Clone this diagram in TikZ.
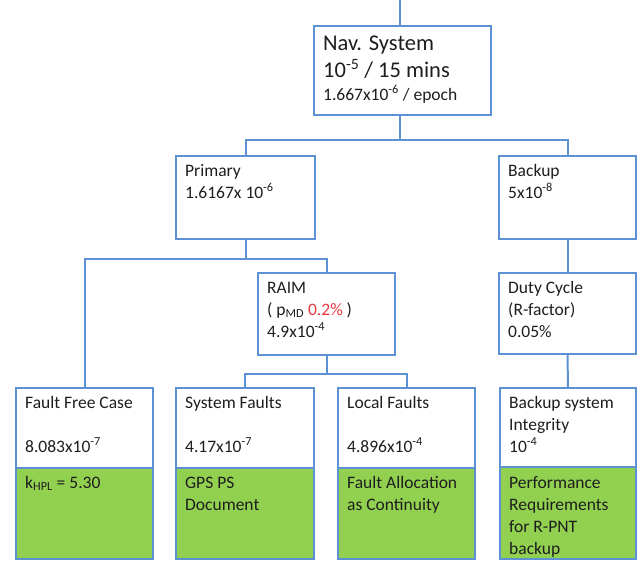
\documentclass[tikz,border=0pt]{standalone}
\usepackage{fontspec}
\setmainfont{Carlito}
\definecolor{lineblue}{RGB}{92,146,212}
\definecolor{boxgreen}{RGB}{146,208,80}
\definecolor{txt}{RGB}{30,30,30}
\definecolor{redtxt}{RGB}{232,56,64}
\newcommand\fst{\rule{0pt}{14pt}}
\begin{document}
\begin{tikzpicture}[x=1pt,y=-1pt,
  box/.style={draw=lineblue, line width=2pt, fill=white, inner sep=0pt, anchor=north west},
  gbox/.style={box, fill=boxgreen},
  lbl/.style={anchor=north west, align=left, inner sep=0pt, text=txt, font=\fontsize{17.5}{22}\selectfont},
  nlbl/.style={anchor=base west, inner sep=0pt, text=txt},
  conn/.style={draw=lineblue, line width=2pt}]
\useasboundingbox (0,0) rectangle (637,562);
% boxes
\node[box, minimum width=177pt, minimum height=89pt] (nav) at (313,25) {};
\node[box, minimum width=139pt, minimum height=83pt] (prim) at (175,155) {};
\node[box, minimum width=137pt, minimum height=83pt] (back) at (498,155) {};
\node[box, minimum width=137pt, minimum height=82pt] (raim) at (257,272) {};
\node[box, minimum width=137pt, minimum height=81pt] (duty) at (498,272) {};
\node[box, minimum width=137pt, minimum height=80pt] (ffc) at (15,387) {};
\node[box, minimum width=138pt, minimum height=80pt] (sysf) at (175,387) {};
\node[box, minimum width=137pt, minimum height=80pt] (locf) at (337,387) {};
\node[box, minimum width=136pt, minimum height=79pt] (bsys) at (499,387) {};
\node[gbox, minimum width=137pt, minimum height=91pt] (ffcg) at (15,467) {};
\node[gbox, minimum width=138pt, minimum height=91pt] (sysfg) at (175,467) {};
\node[gbox, minimum width=137pt, minimum height=91pt] (locfg) at (337,467) {};
\node[gbox, minimum width=136pt, minimum height=92pt] (bsysg) at (499,466) {};
% connectors
\coordinate (top) at (400,0);
\draw[conn] (top) -- (top |- nav.north);
\draw[conn] (nav.south -| top) -- ++(0,24) -| (prim.north);
\draw[conn] (nav.south -| top) -- ++(0,24) -| (back.north);
\draw[conn] (prim.south) -- ++(0,19) -| (ffc.north);
\draw[conn] (prim.south) -- ++(0,19) -| (raim.north);
\draw[conn] (raim.south) -- ++(0,18) -| (sysf.north);
\draw[conn] (raim.south) -- ++(0,18) -| (locf.north);
\draw[conn] (back.south) -- (duty.north);
\draw[conn] (duty.south) -- (bsys.north);
% texts
\node[nlbl, font=\fontsize{22.5}{27}\selectfont] (navt1) at (323,50) {Nav. System};
\node[nlbl, font=\fontsize{22.5}{27}\selectfont] (navt2) at (323,77) {10\textsuperscript{-5} / 15 mins};
\node[nlbl, font=\fontsize{17.5}{22}\selectfont] (navt3) at (323,100) {1.667x10\textsuperscript{-6} / epoch};
\node[lbl] (primt) at (185,162) {\fst Primary\\1.6167x 10\textsuperscript{-6}};
\node[lbl] (backt) at (508,162) {\fst Backup\\5x10\textsuperscript{-8}};
\node[lbl] (raimt) at (267,279) {\fst RAIM\\( p\textsubscript{MD} \textcolor{redtxt}{0.2\%} )\\4.9x10\textsuperscript{-4}};
\node[lbl] (dutyt) at (508,279) {\fst Duty Cycle\\(R-factor)\\0.05\%};
\node[lbl] (ffct) at (25,394) {\fst Fault Free Case\\[22pt]8.083x10\textsuperscript{-7}};
\node[lbl] (sysft) at (185,394) {\fst System Faults\\[22pt]4.17x10\textsuperscript{-7}};
\node[lbl] (locft) at (347,394) {\fst Local Faults\\[22pt]4.896x10\textsuperscript{-4}};
\node[lbl] (bsyst) at (509,394) {\fst Backup system\\Integrity\\10\textsuperscript{-4}};
\node[lbl] (ffcgt) at (25,474) {\fst k\textsubscript{HPL} = 5.30};
\node[lbl] (sysfgt) at (185,474) {\fst GPS PS\\Document};
\node[lbl] (locfgt) at (347,474) {\fst Fault Allocation\\as Continuity};
\node[lbl] (bsysgt) at (509,474) {\fst Performance\\Requirements\\for R-PNT\\backup};
\end{tikzpicture}
\end{document}
